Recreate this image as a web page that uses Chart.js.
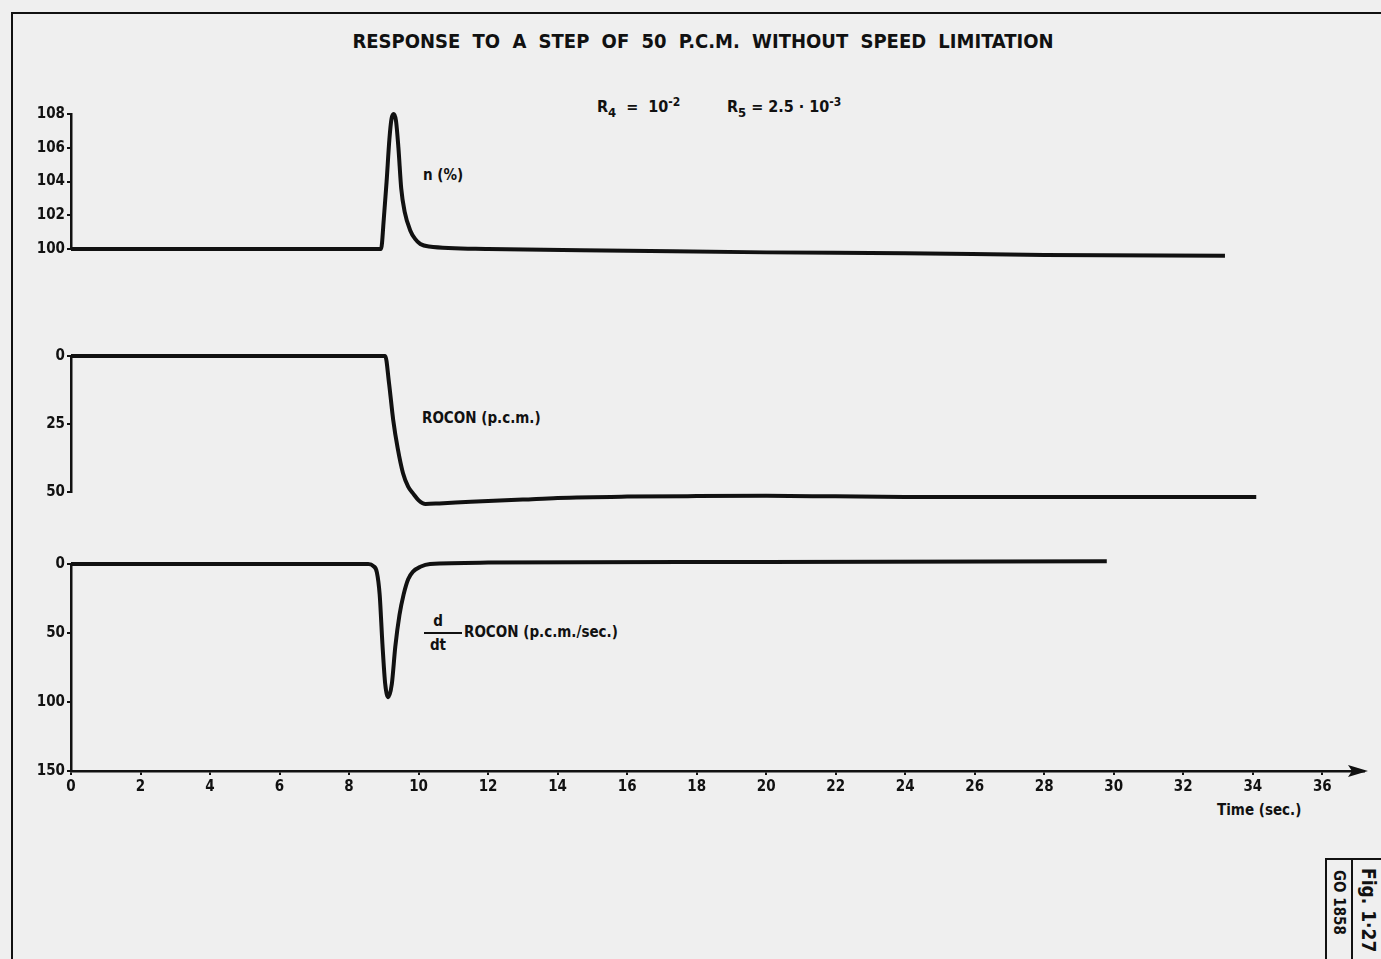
<!DOCTYPE html>
<html>
<head>
<meta charset="utf-8">
<script src="https://cdn.jsdelivr.net/npm/chart.js@4.4.1/dist/chart.umd.min.js"></script>
<style>
  body { margin: 0; background: #efefef; }
  #page { position: relative; width: 1381px; height: 959px; overflow: hidden;
          font-family: "DejaVu Sans Condensed", "DejaVu Sans", sans-serif; color: #111; }
  canvas { position: absolute; left: 0; }
  .txt { position: absolute; white-space: nowrap; font-weight: bold; font-size: 15px; line-height: 1; }
  #frame { position: absolute; left: 11px; top: 12px; width: 1380px; height: 960px;
           border-top: 2px solid #111; border-left: 2px solid #111; }
  #title { position: absolute; top: 29px; left: 0; width: 1406px; text-align: center;
           font-weight: bold; font-size: 20px; word-spacing: 6px; white-space: nowrap; }
  .frac { position: absolute; text-align: center; font-weight: bold; font-size: 15px; line-height: 1; }
  .box { position: absolute; border-left: 2px solid #111; top: 858px; height: 110px; }
  .rot { position: absolute; transform: rotate(90deg); transform-origin: left top;
         white-space: nowrap; font-weight: bold; }
</style>
</head>
<body>
<div id="page">
  <div id="frame"></div>
  <div id="title">RESPONSE  TO A  STEP OF 50 P.C.M. WITHOUT SPEED LIMITATION</div>
  <div class="txt" style="left:597px; top:96px; font-size:16px;">R<sub style="font-size:13px">4</sub> &nbsp;= &nbsp;10<sup style="font-size:12px">-2</sup></div>
  <div class="txt" style="left:727px; top:96px; font-size:16px;">R<sub style="font-size:13px">5</sub> = 2.5 · 10<sup style="font-size:12px">-3</sup></div>
  <div class="txt" style="left:423px; top:168px;">n (%)</div>
  <div class="txt" style="left:422px; top:411px;">ROCON (p.c.m.)</div>
  <div class="frac" style="left:424px; top:614px; width:28px;">d</div>
  <div style="position:absolute; left:424px; top:632px; width:38px; border-top:2px solid #111;"></div>
  <div class="frac" style="left:424px; top:638px; width:28px;">dt</div>
  <div class="txt" style="left:464px; top:625px;">ROCON (p.c.m./sec.)</div>
  <div class="txt" style="left:1217px; top:803px;">Time (sec.)</div>
  <div style="position:absolute; left:1326px; top:858px; width:60px; border-top:2px solid #111;"></div>
  <div class="box" style="left:1325px;"></div>
  <div class="box" style="left:1351px;"></div>
  <div class="rot" style="left:1348px; top:870px; font-size:15px;">GO 1858</div>
  <div class="rot" style="left:1380px; top:868px; font-size:19px;">Fig. 1·27</div>

  <canvas id="chartN" width="1381" height="160" style="top:100px"></canvas>
  <canvas id="chartRocon" width="1381" height="175" style="top:340px"></canvas>
  <canvas id="chartRate" width="1381" height="255" style="top:545px"></canvas>
</div>

<script>
// time in sec
const timeN = [0, 8.92, 9.0, 9.08, 9.16, 9.22, 9.28, 9.35, 9.42, 9.5, 9.6, 9.76, 9.9, 10.05, 10.3, 12, 16, 20, 24, 28, 33.2];
const speedN = [100, 100, 101.8, 104, 106.5, 107.7, 108, 107.6, 106, 103.6, 102.2, 101.1, 100.6, 100.3, 100.15, 100, 99.9, 99.8, 99.75, 99.65, 99.6];

const timeRocon = [0, 9.04, 9.15, 9.27, 9.4, 9.55, 9.7, 9.84, 10.0, 10.2, 10.6, 11.5, 13, 14, 16, 18, 20, 22, 24, 28, 34.1];
const rocon = [0, 0, 10, 23.5, 34, 43, 48, 50.5, 53, 54.4, 54.2, 53.6, 52.8, 52.2, 51.7, 51.5, 51.4, 51.6, 51.8, 51.8, 51.8];

const timeRate = [0, 8.55, 8.7, 8.8, 8.88, 8.96, 9.04, 9.13, 9.23, 9.33, 9.45, 9.57, 9.7, 9.84, 10.05, 10.33, 12, 20, 29.8];
const roconRate = [0, 0, 1.5, 6, 22, 58, 87, 96.5, 87, 60, 37, 22, 11, 5.5, 2, 0, -1, -1.5, -2];

const timeMin = 0, timeMax = 37.2, timeStep = 2;
const nRange = [100, 108, 2];
const roconRange = [0, 50, 25];
const rateRange = [0, 150, 50];

const ink = '#111';
const tickFont = { family: '"DejaVu Sans Condensed", "DejaVu Sans", sans-serif', size: 15, weight: 'bold' };

function pts(xs, ys) {
    return xs.map((x, i) => ({ x: x, y: ys[i] }));
}

const arrowHead = {
    id: 'arrowHead',
    afterDraw(chart) {
        const c = chart.ctx;
        const x = chart.chartArea.right;
        const y = chart.chartArea.bottom;
        c.save();
        c.fillStyle = ink;
        c.beginPath();
        c.moveTo(x + 4, y);
        c.lineTo(x - 16, y - 6);
        c.lineTo(x - 12, y);
        c.lineTo(x - 16, y + 6);
        c.closePath();
        c.fill();
        c.restore();
    }
};

function makeChart(el, xs, ys, range, reverse, showX, padding) {
    return new Chart(el, {
        type: 'line',
        data: {
            datasets: [{
                data: pts(xs, ys),
                borderColor: ink,
                borderWidth: 4,
                pointRadius: 0,
                cubicInterpolationMode: 'monotone',
                clip: false
            }]
        },
        options: {
            responsive: false,
            animation: false,
            events: [],
            layout: { padding: padding },
            plugins: { legend: { display: false }, tooltip: { enabled: false } },
            scales: {
                x: {
                    type: 'linear',
                    display: showX,
                    min: timeMin,
                    max: timeMax,
                    afterFit: (s) => { if (showX) s.height = 29; },
                    border: { color: ink, width: 2.5 },
                    grid: { drawOnChartArea: false, color: ink, lineWidth: 2, tickLength: 4 },
                    ticks: { stepSize: timeStep, includeBounds: false, color: ink, font: tickFont, padding: 3, maxRotation: 0 }
                },
                y: {
                    min: range[0],
                    max: range[1],
                    reverse: reverse,
                    afterFit: (s) => { s.width = 71; },
                    border: { color: ink, width: 2.5 },
                    grid: { drawOnChartArea: false, color: ink, lineWidth: 2, tickLength: 4 },
                    ticks: { stepSize: range[2], color: ink, font: tickFont, padding: 2 }
                }
            }
        },
        plugins: showX ? [arrowHead] : []
    });
}

makeChart(document.querySelector('#chartN'), timeN, speedN, nRange, false, false,
    { top: 14, bottom: 11, left: 0, right: 17 });
makeChart(document.querySelector('#chartRocon'), timeRocon, rocon, roconRange, true, false,
    { top: 16, bottom: 23, left: 0, right: 17 });
makeChart(document.querySelector('#chartRate'), timeRate, roconRate, rateRange, true, true,
    { top: 19, bottom: 0, left: 0, right: 17 });
</script>
</body>
</html>
